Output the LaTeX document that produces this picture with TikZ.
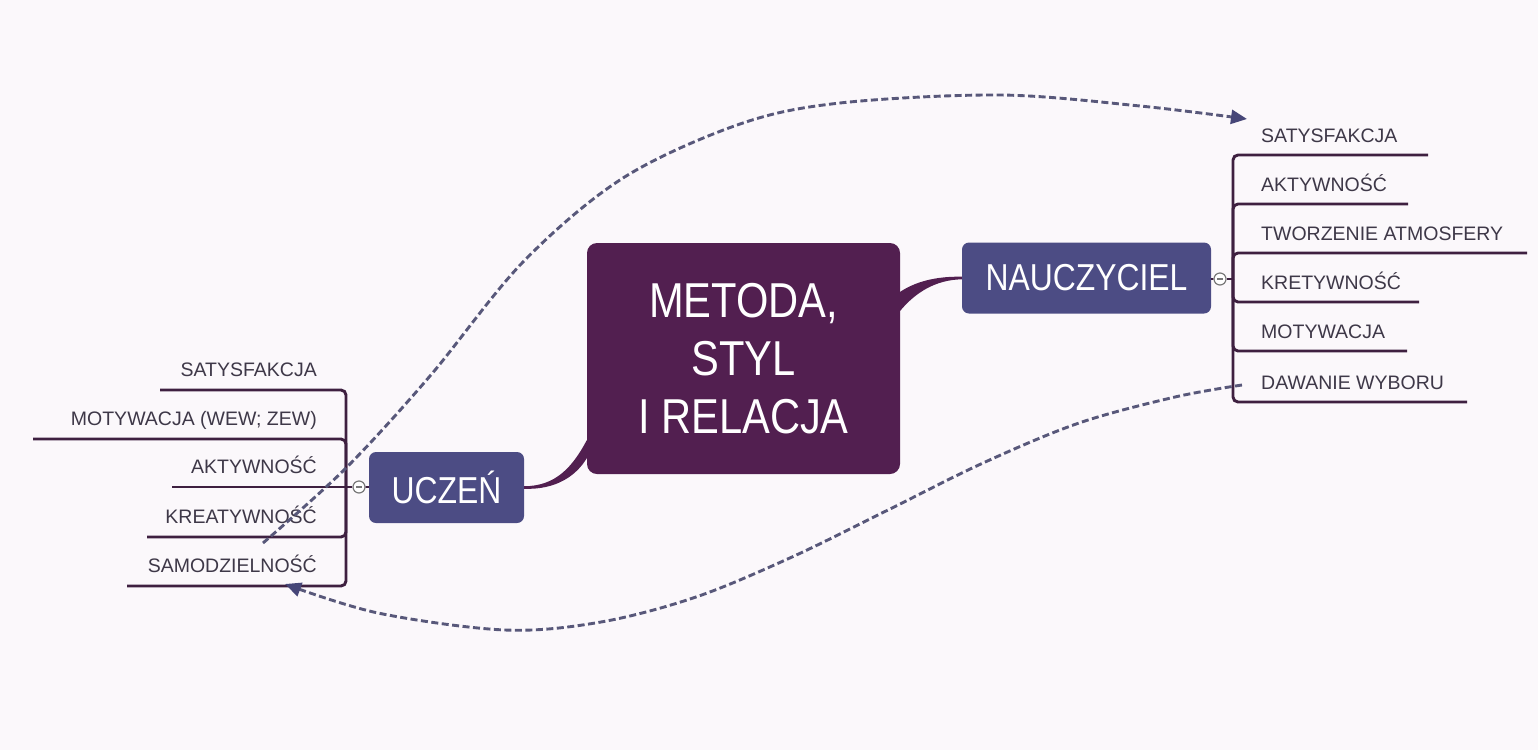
\documentclass[tikz,border=0pt]{standalone}
\usepackage{fontspec}
\setmainfont{Liberation Sans}
\newfontfamily\condfont[FakeStretch=0.85]{Liberation Sans}
\usetikzlibrary{arrows.meta}
\definecolor{bg}{RGB}{251,248,251}
\definecolor{mainc}{RGB}{82,31,80}
\definecolor{subc}{RGB}{76,76,132}
\definecolor{brc}{RGB}{62,32,64}
\definecolor{txtc}{RGB}{62,56,72}
\definecolor{relc}{RGB}{88,88,122}
\definecolor{tipc}{RGB}{70,70,120}
\definecolor{knobc}{RGB}{120,120,120}
\begin{document}
\begin{tikzpicture}[x=1pt,y=-1pt,
  mainbox/.style={rounded corners=10pt, fill=mainc, text=white, minimum width=313pt, minimum height=231pt, inner sep=0pt, align=center, font=\condfont\fontsize{49}{58}\selectfont},
  subbox/.style={rounded corners=7pt, fill=subc, text=white, minimum height=71pt, inner sep=0pt, font=\condfont\fontsize{37.5}{40}\selectfont},
  topic/.style={text=txtc, inner sep=0pt, font=\fontsize{19.5}{22}\selectfont},
  branch/.style={draw=brc, line width=2.9pt, rounded corners=5pt},
  knob/.style={circle, draw=knobc, fill=white, line width=1.2pt, minimum size=12pt, inner sep=0pt},
  rel/.style={draw=relc, line width=2.9pt, dash pattern=on 7pt off 3.5pt, -{Triangle[length=16pt,width=14pt,color=tipc]}}]
\fill[bg] (0,0) rectangle (1538,750);
\useasboundingbox (0,0) rectangle (1538,750);

% main nodes
\node[mainbox] (mid) at (743.5,358.5) {METODA,\\STYL\\I RELACJA};
\node[subbox, minimum width=155pt] (ucz) at (446.5,487.5) {UCZEŃ};
\node[subbox, minimum width=249pt] (nau) at (1086.5,278) {NAUCZYCIEL};

% tapered connectors
\fill[mainc] ([yshift=1.3pt]ucz.east) .. controls (555,486.2) and (572,468) .. ([yshift=34pt]mid.south west)
  -- ([yshift=16pt]mid.south west) .. controls (576,476) and (556,489.8) .. ([yshift=-1.3pt]ucz.east) -- cycle;
\fill[mainc] ([yshift=1.3pt]nau.west) .. controls (935,276.2) and (915,282) .. ([yshift=-49pt]mid.north east)
  -- ([yshift=-68pt]mid.north east) .. controls (915,293) and (935,279.8) .. ([yshift=-1.3pt]nau.west) -- cycle;

% knobs
\node[knob] (kL) at (359,487) {};
\node[knob] (kR) at (1220,279) {};
\draw[knobc, line width=1.2pt] ([xshift=-3pt]kL.center) -- ([xshift=3pt]kL.center);
\draw[knobc, line width=1.2pt] ([xshift=-3pt]kR.center) -- ([xshift=3pt]kR.center);
\draw[brc, line width=1.8pt] (kL) -- (ucz);
\draw[brc, line width=1.8pt] (nau) -- (kR);

% left branch
\coordinate (jL) at (346,487);
\coordinate (l1e) at (160,390);
\coordinate (l2e) at (33,439);
\coordinate (l3e) at (172,487);
\coordinate (l4e) at (147,537);
\coordinate (l5e) at (127,586);
\draw[branch] (jL) |- (l1e);
\draw[branch] (jL) |- (l2e);
\draw[branch] (kL) -- (l3e);
\draw[branch] (jL) |- (l4e);
\draw[branch] (jL) |- (l5e);
\node[topic, anchor=base east] (l1) at (317,376) {SATYSFAKCJA};
\node[topic, anchor=base east] (l2) at (317,425) {MOTYWACJA (WEW; ZEW)};
\node[topic, anchor=base east] (l3) at (317,473) {AKTYWNOŚĆ};
\node[topic, anchor=base east] (l4) at (317,523) {KREATYWNOŚĆ};
\node[topic, anchor=base east] (l5) at (317,572) {SAMODZIELNOŚĆ};

% right branch
\coordinate (jR) at (1233,279);
\coordinate (r1e) at (1428,155);
\coordinate (r2e) at (1408,204);
\coordinate (r3e) at (1527,253);
\coordinate (r4e) at (1419,302);
\coordinate (r5e) at (1407,351);
\coordinate (r6e) at (1467,402);
\draw[brc, line width=2.9pt] (kR) -- (jR);
\draw[branch] (jR) |- (r1e);
\draw[branch] (jR) |- (r2e);
\draw[branch] (jR) |- (r3e);
\draw[branch] (jR) |- (r4e);
\draw[branch] (jR) |- (r5e);
\draw[branch] (jR) |- (r6e);
\node[topic, anchor=base west] (r1) at (1261,142) {SATYSFAKCJA};
\node[topic, anchor=base west] (r2) at (1261,191) {AKTYWNOŚĆ};
\node[topic, anchor=base west] (r3) at (1261,240) {TWORZENIE ATMOSFERY};
\node[topic, anchor=base west] (r4) at (1261,289) {KRETYWNOŚĆ};
\node[topic, anchor=base west] (r5) at (1261,338) {MOTYWACJA};
\node[topic, anchor=base west] (r6) at (1261,389) {DAWANIE WYBORU};

% relationships
\coordinate (s1) at (263,543);
\coordinate (e1) at (1247,119);
\draw[rel] plot[smooth, tension=0.55] coordinates {(s1) (346,468) (430,376) (523,262) (623,178) (740,124) (840,103) (1000,95) (1140,106) (e1)};
\coordinate (s2) at (1242,385);
\coordinate (e2) at (285,584);
\draw[rel] plot[smooth, tension=0.55] coordinates {(s2) (1175,397) (1079,423) (983,463) (888,510) (792,557) (696,597) (601,622) (505,630) (378,613) (e2)};
\end{tikzpicture}
\end{document}
